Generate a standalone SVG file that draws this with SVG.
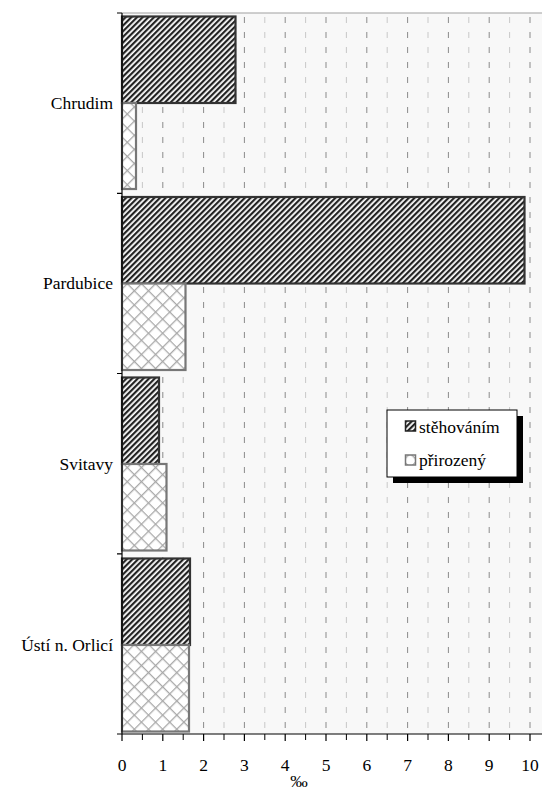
<svg xmlns="http://www.w3.org/2000/svg" width="542" height="789" viewBox="0 0 542 789">
<defs>
<pattern id="diag" width="4" height="4" patternUnits="userSpaceOnUse" patternTransform="rotate(45)">
<rect x="0" y="0" width="4" height="4" fill="#ffffff"/>
<rect x="0" y="0" width="2.2" height="4" fill="#222222"/>
</pattern>
<pattern id="cross" width="10" height="10" patternUnits="userSpaceOnUse" patternTransform="rotate(45)">
<rect x="0" y="0" width="10" height="10" fill="#ffffff"/>
<path d="M0 0.6H10M0.6 0V10" stroke="#a8a8a8" stroke-width="1.4" fill="none"/>
</pattern>
<style>
text{font-family:Liberation Serif,Times New Roman,Times,Tinos,Noto Serif,DejaVu Serif,FreeSerif,serif;font-size:17.5px;fill:#000}
.gmaj{stroke:#8a8a8a;stroke-width:1;stroke-dasharray:6 9}
.gmin{stroke:#c8c8c8;stroke-width:1;stroke-dasharray:6 9}
.mig{fill:url(#diag);stroke:#333;stroke-width:2.2}
.nat{fill:url(#cross);stroke:#777;stroke-width:2.2}
.ax{stroke:#000;stroke-width:1.2}
.lab{text-anchor:end}
.num{text-anchor:middle}
</style>
</defs>
<rect x="0" y="0" width="542" height="789" fill="#ffffff"/>
<g id="plot-area">
<rect x="122" y="13" width="420" height="721" fill="#f8f8f8"/>
<line x1="122" y1="13" x2="542" y2="13" stroke="#a0a0a0" stroke-width="1.2"/>
</g>
<g id="gridlines">
<line class="gmin" x1="142.4" y1="17" x2="142.4" y2="734"/>
<line class="gmaj" x1="162.8" y1="17" x2="162.8" y2="734"/>
<line class="gmin" x1="183.2" y1="17" x2="183.2" y2="734"/>
<line class="gmaj" x1="203.6" y1="17" x2="203.6" y2="734"/>
<line class="gmin" x1="224" y1="17" x2="224" y2="734"/>
<line class="gmaj" x1="244.4" y1="17" x2="244.4" y2="734"/>
<line class="gmin" x1="264.8" y1="17" x2="264.8" y2="734"/>
<line class="gmaj" x1="285.2" y1="17" x2="285.2" y2="734"/>
<line class="gmin" x1="305.6" y1="17" x2="305.6" y2="734"/>
<line class="gmaj" x1="326" y1="17" x2="326" y2="734"/>
<line class="gmin" x1="346.4" y1="17" x2="346.4" y2="734"/>
<line class="gmaj" x1="366.8" y1="17" x2="366.8" y2="734"/>
<line class="gmin" x1="387.2" y1="17" x2="387.2" y2="734"/>
<line class="gmaj" x1="407.6" y1="17" x2="407.6" y2="734"/>
<line class="gmin" x1="428" y1="17" x2="428" y2="734"/>
<line class="gmaj" x1="448.4" y1="17" x2="448.4" y2="734"/>
<line class="gmin" x1="468.8" y1="17" x2="468.8" y2="734"/>
<line class="gmaj" x1="489.2" y1="17" x2="489.2" y2="734"/>
<line class="gmin" x1="509.6" y1="17" x2="509.6" y2="734"/>
<line class="gmaj" x1="530" y1="17" x2="530" y2="734"/>
</g>
<g id="bar-chrudim">
<rect class="mig" x="122" y="16.5" width="113.5" height="86.5"/>
<rect class="nat" x="122" y="103" width="14" height="86"/>
</g>
<g id="bar-pardubice">
<rect class="mig" x="122" y="197" width="402.5" height="86.5"/>
<rect class="nat" x="122" y="283.5" width="63.5" height="86.5"/>
</g>
<g id="bar-svitavy">
<rect class="mig" x="122" y="377.5" width="37" height="86.5"/>
<rect class="nat" x="122" y="464" width="44.5" height="86.5"/>
</g>
<g id="bar-usti">
<rect class="mig" x="122" y="558.5" width="68" height="86.5"/>
<rect class="nat" x="122" y="645" width="67" height="86.5"/>
</g>
<g id="axes">
<line class="ax" x1="122" y1="13" x2="122" y2="734"/>
<line class="ax" x1="117" y1="734" x2="542" y2="734"/>
<path class="ax" d="M117 13H122M117 193.3H122M117 373.5H122M117 553.8H122"/>
<path stroke="#000" stroke-width="1.2" d="M122 734V741M162.8 734V741M203.6 734V741M244.4 734V741M285.2 734V741M326 734V741M366.8 734V741M407.6 734V741M448.4 734V741M489.2 734V741M530 734V741"/>
<path stroke="#000" stroke-width="1" d="M142.4 734V740M183.2 734V740M224 734V740M264.8 734V740M305.6 734V740M346.4 734V740M387.2 734V740M428 734V740M468.8 734V740M509.6 734V740"/>
</g>
<g id="category-labels">
<text class="lab" x="113" y="109">Chrudim</text>
<text class="lab" x="113" y="289">Pardubice</text>
<text class="lab" x="113" y="470">Svitavy</text>
<text class="lab" x="113" y="651">Ústí n. Orlicí</text>
</g>
<g id="x-labels">
<text class="num" x="122" y="771">0</text>
<text class="num" x="162.8" y="771">1</text>
<text class="num" x="203.6" y="771">2</text>
<text class="num" x="244.4" y="771">3</text>
<text class="num" x="285.2" y="771">4</text>
<text class="num" x="326" y="771">5</text>
<text class="num" x="366.8" y="771">6</text>
<text class="num" x="407.6" y="771">7</text>
<text class="num" x="448.4" y="771">8</text>
<text class="num" x="489.2" y="771">9</text>
<text class="num" x="530" y="771">10</text>
<text class="num" x="299" y="786.5">‰</text>
</g>
<g id="legend">
<rect x="393" y="416" width="130" height="67" fill="#000"/>
<rect x="387" y="410" width="130" height="67" fill="#ffffff" stroke="#000" stroke-width="1"/>
<rect x="405.5" y="421" width="10" height="10" fill="url(#diag)" stroke="#222" stroke-width="1.5"/>
<text x="419" y="433">stěhováním</text>
<rect x="405.5" y="455" width="10" height="10" fill="url(#cross)" stroke="#777" stroke-width="1.5"/>
<text x="419" y="466">přirozený</text>
</g>
</svg>
